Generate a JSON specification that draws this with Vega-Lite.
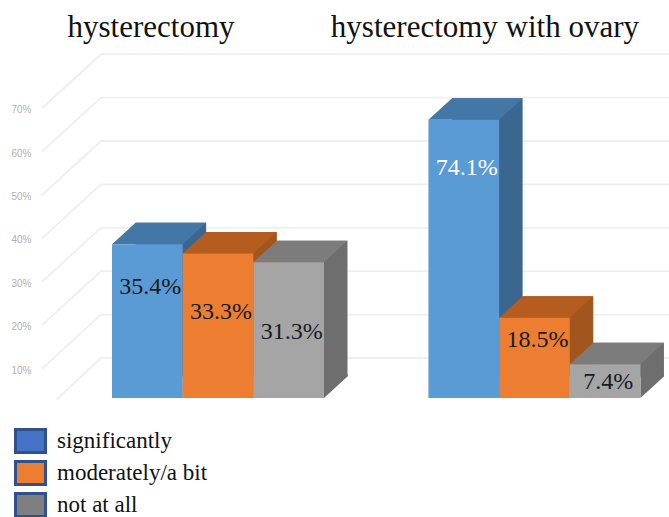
{"$schema":"https://vega.github.io/schema/vega-lite/v6.json","width":669,"height":517,"padding":0,"autosize":{"type":"none"},"background":"white","config":{"view":{"stroke":null}},
"datasets":{"bars":[
{"group":"hysterectomy","series":"significantly","bar_height":35.4,"label":"35.4%","label_at":25.6},
{"group":"hysterectomy","series":"moderately/a bit","bar_height":33.3,"label":"33.3%","label_at":19.8},
{"group":"hysterectomy","series":"not at all","bar_height":31.3,"label":"31.3%","label_at":15.2},
{"group":"hysterectomy with ovary","series":"significantly","bar_height":64.1,"label":"74.1%","label_at":53},
{"group":"hysterectomy with ovary","series":"moderately/a bit","bar_height":18.5,"label":"18.5%","label_at":13.4},
{"group":"hysterectomy with ovary","series":"not at all","bar_height":7.8,"label":"7.4%","label_at":3.7}],
"levels":[{"level":0},{"level":10},{"level":20},{"level":30},{"level":40},{"level":50},{"level":60},{"level":70}],
"groups":[{"group":"hysterectomy"},{"group":"hysterectomy with ovary"}]},
"data":{"name":"bars"},
"resolve":{"scale":{"x":"independent","xOffset":"independent","color":"independent"}},
"layer":[
{"data":{"name":"levels"},"transform":[{"filter":"datum.level>0"}],"mark":{"type":"rule","color":"#efefef","strokeWidth":1.8,"yOffset":14,"y2Offset":-40},
"encoding":{"x":{"datum":42,"type":"quantitative","scale":{"domain":[0,669]},"axis":null},"x2":{"datum":101},
"y":{"field":"level","type":"quantitative","scale":{"domain":[-27.42,91.71],"nice":false,"zero":false},"axis":{"values":[10,20,30,40,50,60,70],"orient":"left","offset":-31,"title":null,"domain":false,"ticks":false,"grid":false,"labelPadding":0,"labelOffset":15.5,"labelExpr":"datum.value+'%'","labelFont":"Liberation Sans","labelFontSize":10,"labelColor":"#b0b0b0"}},"y2":{"field":"level"}}},
{"data":{"name":"levels"},"transform":[{"filter":"datum.level==0"}],"mark":{"type":"rule","color":"#efefef","strokeWidth":1.8,"yOffset":2,"y2Offset":-40},
"encoding":{"x":{"datum":56,"type":"quantitative","scale":{"domain":[0,669]},"axis":null},"x2":{"datum":101},"y":{"field":"level","type":"quantitative"},"y2":{"field":"level"}}},
{"data":{"name":"levels"},"mark":{"type":"rule","color":"#efefef","strokeWidth":1.8,"yOffset":-40},
"encoding":{"x":{"datum":101,"type":"quantitative","scale":{"domain":[0,669]},"axis":null},"x2":{"datum":669},"y":{"field":"level","type":"quantitative"}}},
{"mark":{"type":"bar","yOffset":-21.5,"y2Offset":-21.5},
"encoding":{"x":{"field":"group","type":"nominal","scale":{"type":"band","domain":["hysterectomy","hysterectomy with ovary"],"paddingInner":0.33,"paddingOuter":0.222,"align":0.797},"axis":null},"xOffset":{"field":"series","type":"nominal","scale":{"domain":["significantly","moderately/a bit","not at all"],"paddingInner":0,"paddingOuter":0,"range":[23.5,235.5]}},"y":{"field":"bar_height","type":"quantitative","stack":null},"y2":{"datum":0},"color":{"field":"series","type":"nominal","legend":null,"scale":{"domain":["significantly","moderately/a bit","not at all"],"range":["#3B668F","#A0561C","#6E6E6E"]}}}},
{"mark":{"type":"point","filled":true,"opacity":1,"size":4,"shape":"M35.3,0L35.3,-24L58.8,-24L58.8,-21.5Z"},
"encoding":{"x":{"field":"group","type":"nominal","scale":{"type":"band","domain":["hysterectomy","hysterectomy with ovary"],"paddingInner":0.33,"paddingOuter":0.222,"align":0.797},"axis":null},"xOffset":{"field":"series","type":"nominal","scale":{"type":"band","domain":["significantly","moderately/a bit","not at all"],"paddingInner":0,"paddingOuter":0}},"y":{"datum":0,"type":"quantitative"},"color":{"field":"series","type":"nominal","legend":null,"scale":{"domain":["significantly","moderately/a bit","not at all"],"range":["#3B668F","#A0561C","#6E6E6E"]}}}},
{"mark":{"type":"point","filled":true,"opacity":1,"size":4,"shape":"M-35.3,0L35.3,0L58.8,-21.5L-11.8,-21.5Z"},
"encoding":{"x":{"field":"group","type":"nominal","scale":{"type":"band","domain":["hysterectomy","hysterectomy with ovary"],"paddingInner":0.33,"paddingOuter":0.222,"align":0.797},"axis":null},"xOffset":{"field":"series","type":"nominal","scale":{"type":"band","domain":["significantly","moderately/a bit","not at all"],"paddingInner":0,"paddingOuter":0}},"y":{"field":"bar_height","type":"quantitative"},"color":{"field":"series","type":"nominal","legend":null,"scale":{"domain":["significantly","moderately/a bit","not at all"],"range":["#4377A5","#B55C1F","#7C7C7C"]}}}},
{"mark":{"type":"bar"},
"encoding":{"x":{"field":"group","type":"nominal","scale":{"type":"band","domain":["hysterectomy","hysterectomy with ovary"],"paddingInner":0.33,"paddingOuter":0.222,"align":0.797},"axis":null},"xOffset":{"field":"series","type":"nominal","scale":{"domain":["significantly","moderately/a bit","not at all"],"paddingInner":0,"paddingOuter":0}},"y":{"field":"bar_height","type":"quantitative","stack":null},"y2":{"datum":0},"color":{"field":"series","type":"nominal","legend":null,"scale":{"domain":["significantly","moderately/a bit","not at all"],"range":["#5B9BD5","#ED7D31","#A5A5A5"]}}}},
{"mark":{"type":"text","font":"Liberation Serif","fontSize":24,"dx":3,"baseline":"middle"},
"encoding":{"x":{"field":"group","type":"nominal","scale":{"type":"band","domain":["hysterectomy","hysterectomy with ovary"],"paddingInner":0.33,"paddingOuter":0.222,"align":0.797},"axis":null},"xOffset":{"field":"series","type":"nominal","scale":{"type":"band","domain":["significantly","moderately/a bit","not at all"],"paddingInner":0,"paddingOuter":0}},"y":{"field":"label_at","type":"quantitative"},"text":{"field":"label"},"color":{"condition":{"test":"datum.label=='74.1%'","value":"#ffffff"},"value":"#141c24"}}},
{"data":{"name":"groups"},"transform":[{"filter":"datum.group=='hysterectomy'"}],"mark":{"type":"text","font":"Liberation Serif","fontSize":31,"dx":-67,"baseline":"middle","color":"#111111"},
"encoding":{"x":{"field":"group","type":"nominal","scale":{"type":"band","domain":["hysterectomy","hysterectomy with ovary"],"paddingInner":0.33,"paddingOuter":0.222,"align":0.797},"axis":null},"y":{"datum":85.2,"type":"quantitative"},"text":{"field":"group"}}},
{"data":{"name":"groups"},"transform":[{"filter":"datum.group!='hysterectomy'"}],"mark":{"type":"text","font":"Liberation Serif","fontSize":31,"dx":-49.5,"baseline":"middle","color":"#111111"},
"encoding":{"x":{"field":"group","type":"nominal","scale":{"type":"band","domain":["hysterectomy","hysterectomy with ovary"],"paddingInner":0.33,"paddingOuter":0.222,"align":0.797},"axis":null},"y":{"datum":85.2,"type":"quantitative"},"text":{"field":"group"}}},
{"mark":{"type":"square","filled":true,"opacity":0},
"encoding":{"x":{"field":"group","type":"nominal","scale":{"type":"band","domain":["hysterectomy","hysterectomy with ovary"],"paddingInner":0.33,"paddingOuter":0.222,"align":0.797},"axis":null},"y":{"field":"bar_height","type":"quantitative"},"color":{"field":"series","type":"nominal","scale":{"domain":["significantly","moderately/a bit","not at all"],"range":["#4472C4","#ED7D31","#7F7F7F"]},"legend":{"orient":"none","legendX":14,"legendY":426,"title":null,"symbolType":"M-1,-0.77H1V0.77H-1Z","symbolSize":900,"symbolOpacity":1,"symbolStrokeColor":"#2F528F","symbolStrokeWidth":3,"labelFont":"Liberation Serif","labelFontSize":23,"labelColor":"#111111","labelOffset":10,"rowPadding":2,"labelLimit":300,"clipHeight":30}}}}
]}
